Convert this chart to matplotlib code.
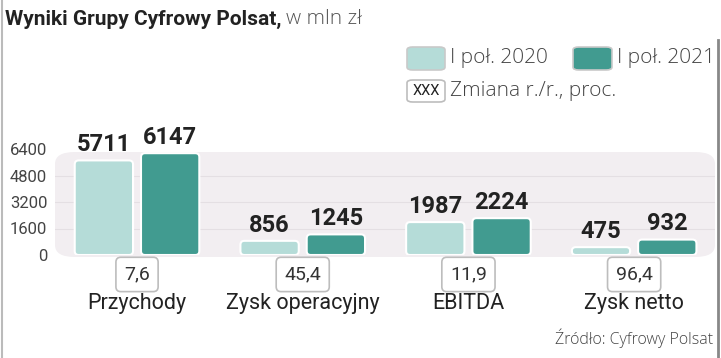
import matplotlib.pyplot as plt
from matplotlib.patches import FancyBboxPatch
from matplotlib.lines import Line2D

plt.rcParams['font.family'] = ['Roboto', 'DejaVu Sans']

categories = ["Przychody", "Zysk operacyjny", "EBITDA", "Zysk netto"]
h1_2020 = [5711, 856, 1987, 475]
h1_2021 = [6147, 1245, 2224, 932]
change_pct = ["7,6", "45,4", "11,9", "96,4"]
yticks = [0, 1600, 3200, 4800, 6400]

light = "#b5dcd8"
dark = "#419b90"
panel = "#f2eef1"
W, H = 721, 358

fig = plt.figure(figsize=(W / 100, H / 100), dpi=100)

# axes in pixel terms: left 55, right 715, zero line at y=255, top at y=130
ax = fig.add_axes([55 / W, (H - 255) / H, 660 / W, 125 / H])
px_y = 6400 / 106.0
ax.set_ylim(0, 125 * px_y)
ax.set_xlim(-0.495, 3.488)
for s in ax.spines.values():
    s.set_visible(False)
ax.set_xticks([])
ax.set_yticks(yticks)
ax.set_yticklabels([str(t) for t in yticks], fontsize=12, color="#444444")
ax.tick_params(axis='y', length=0, pad=5.5)

# rounded background panel
ax.add_patch(FancyBboxPatch((0, -2 / 125), 1, 105 / 125, transform=ax.transAxes,
                            boxstyle="round,pad=0,rounding_size=0.03",
                            mutation_aspect=660 / 125 * 0.6,
                            fc=panel, ec="none", zorder=0, clip_on=False))
for t in yticks[1:4]:
    ax.axhline(t, color="#e4dfe3", lw=0.8, zorder=0.5)

x = list(range(len(categories)))
off, bw = 0.2, 0.352
b1 = ax.bar([i - off for i in x], h1_2020, bw, color=light)
b2 = ax.bar([i + off for i in x], h1_2021, bw, color=dark)

asp = (px_y) / (1 / 165.7)
for bars, col in ((b1, light), (b2, dark)):
    for p in bars:
        ax.add_patch(FancyBboxPatch((p.get_x(), p.get_y()), p.get_width(), p.get_height(),
                                    boxstyle="round,pad=0,rounding_size=0.024",
                                    mutation_aspect=asp, fc=col, ec="white", lw=1.5,
                                    zorder=2))
        p.remove()

for bars, vals in ((b1, h1_2020), (b2, h1_2021)):
    for p, v in zip(bars, vals):
        ax.annotate(str(v), (p.get_x() + p.get_width() / 2, v), xytext=(0, 3),
                    textcoords='offset points', ha='center', va='bottom',
                    fontsize=17, fontweight='bold', color="#222222",
                    fontstretch='condensed', zorder=3)

for i, (c, ch) in enumerate(zip(categories, change_pct)):
    ax.annotate(ch, (i, 0), xytext=(0, -14), textcoords='offset points',
                ha='center', va='center', fontsize=14, color="#333333",
                bbox=dict(boxstyle="round,pad=0.42,rounding_size=0.25", fc="white",
                          ec="#bdbdbd", lw=1.2), zorder=4, annotation_clip=False)
    ax.annotate(c, (i, 0), xytext=(0, -35), textcoords='offset points',
                ha='center', va='center', fontsize=15.5, color="#222222",
                annotation_clip=False)

# title
t1 = fig.text(5 / W, 1 - 19 / H, "Wyniki Grupy Cyfrowy Polsat,", fontsize=15,
              fontweight='bold', color="#222222", va='center')
fig.canvas.draw()
bb = t1.get_window_extent()
fig.text(bb.x1 / W + 5 / W, 1 - 19 / H, "w mln zł", fontsize=15, color="#555555",
         va='center', family=['Open Sans', 'DejaVu Sans'], fontweight='light')

# legend
def leg_box(x0, y0, w, h, fc, ec):
    fig.add_artist(FancyBboxPatch((x0 / W, 1 - (y0 + h) / H), w / W, h / H,
                                  boxstyle="round,pad=0,rounding_size=0.008",
                                  transform=fig.transFigure, fc=fc, ec=ec, lw=1.2))

lfont = dict(fontsize=15, color="#444444", va='center',
             family=['Open Sans', 'DejaVu Sans'], fontweight='light')
leg_box(407, 47, 38, 23, light, "#c9c9c9")
fig.text(450 / W, 1 - 58 / H, "I poł. 2020", **lfont)
leg_box(573, 47, 39, 23, dark, "#c9c9c9")
fig.text(617 / W, 1 - 58 / H, "I poł. 2021", **lfont)
leg_box(407, 80, 38, 22, "white", "#bdbdbd")
fig.text(426 / W, 1 - 91 / H, "XXX", fontsize=10.5, color="#222222", va='center', ha='center',
         fontstretch='condensed')
fig.text(450 / W, 1 - 91 / H, "Zmiana r./r., proc.", **lfont)

fig.text(713 / W, 1 - 338 / H, "Źródło: Cyfrowy Polsat", fontsize=11.5, color="#444444",
         va='center', ha='right', family=['Open Sans', 'DejaVu Sans'], fontweight='light')

# frame lines
fig.add_artist(Line2D([2 / W, 2 / W], [0, 1], color="#bbbbbb", lw=1.5, transform=fig.transFigure))
fig.add_artist(Line2D([718 / W, 718 / W], [0, 1 - 40 / H], color="#888888", lw=2,
                      transform=fig.transFigure))

fig.savefig("out.png", dpi=100)
